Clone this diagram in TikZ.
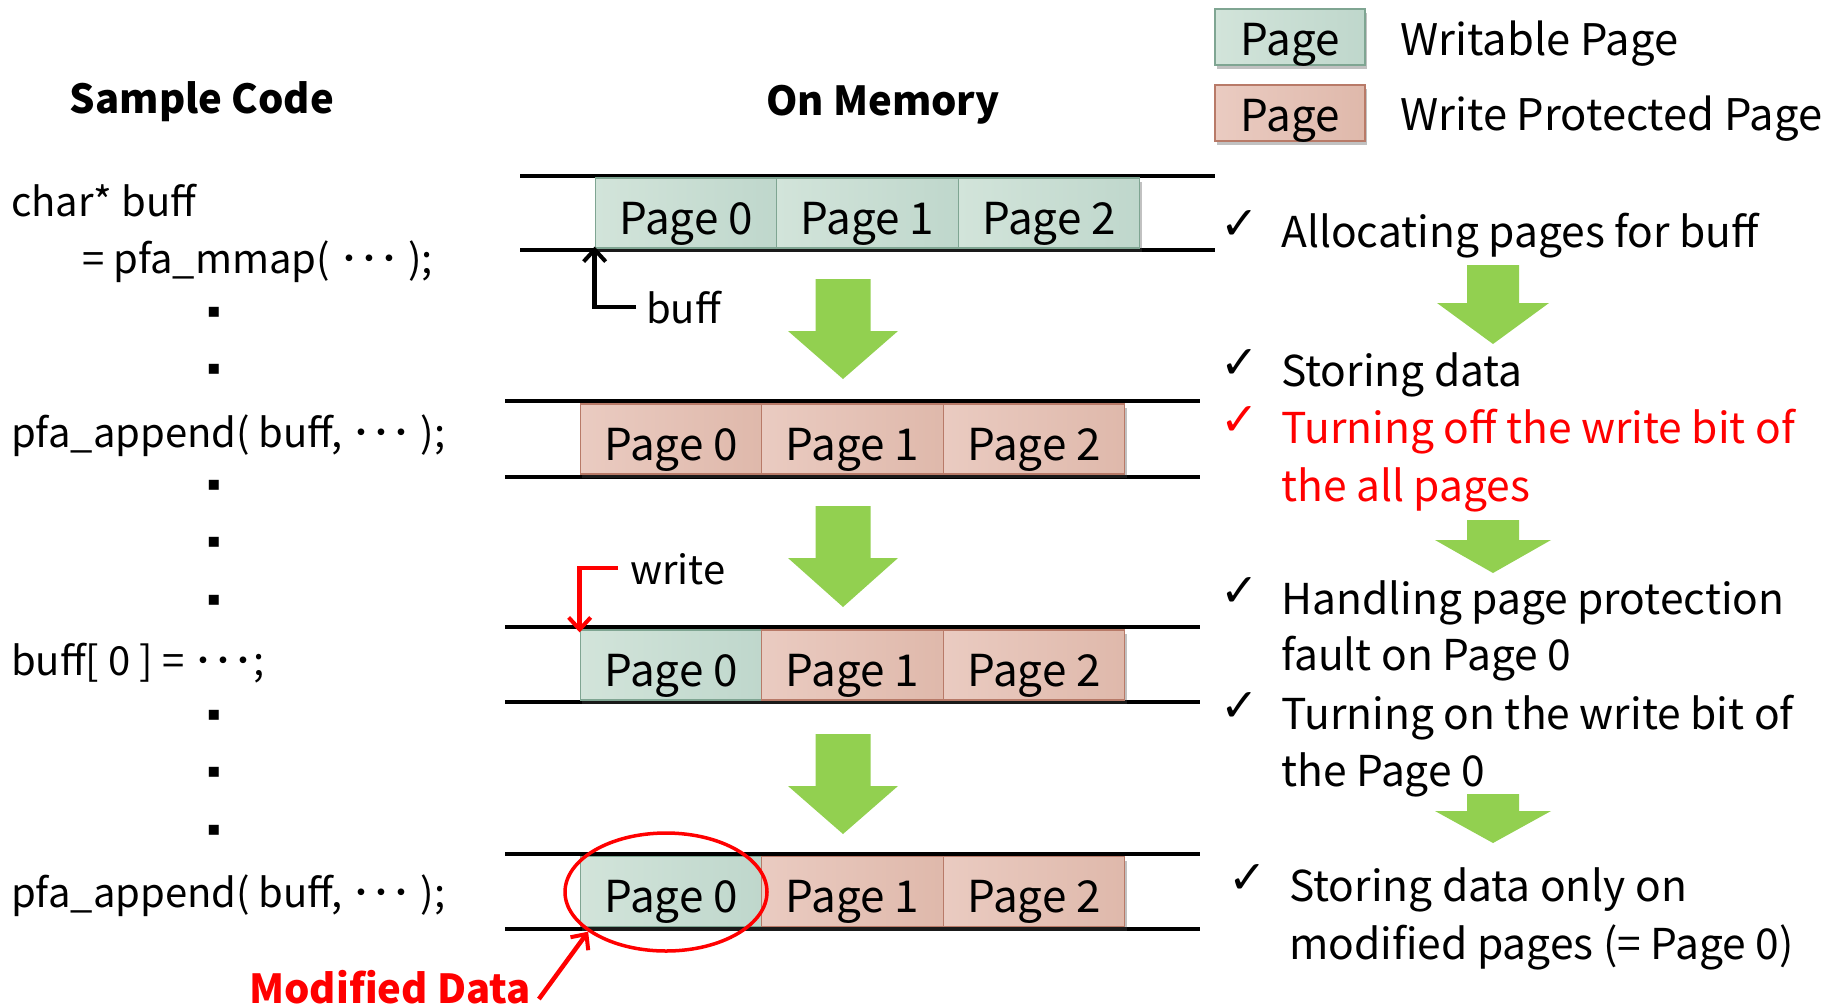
\documentclass[tikz,border=0pt]{standalone}
\usepackage{fontspec}
\setmainfont{Noto Sans CJK JP}
\newfontfamily\symfont{DejaVu Sans}
\usetikzlibrary{arrows.meta,shapes.geometric,shadows}

\definecolor{wpLight}{HTML}{D2E4DA}
\definecolor{wpDark}{HTML}{AFCDBF}
\definecolor{wpEdge}{HTML}{7FA592}
\definecolor{rpLight}{HTML}{EACBC1}
\definecolor{rpDark}{HTML}{D7A796}
\definecolor{rpEdge}{HTML}{B87A68}
\definecolor{flowgreen}{HTML}{92D050}
\definecolor{alert}{HTML}{FF0000}

% downward block arrow: x, top, shoulder, tip, half shaft, half head
\newcommand\blockdown[6]{%
  \fill[flowgreen] (#1-#5,#2) -- (#1+#5,#2) -- (#1+#5,#3) -- (#1+#6,#3)
    -- (#1,#4) -- (#1-#6,#3) -- (#1-#5,#3) -- cycle;}

\begin{document}
\begin{tikzpicture}[x=1pt,y=-1pt,
  txt/.style={font=\fontsize{40}{48}\selectfont, inner sep=0pt,
    text height=35pt, text depth=3pt},
  step text/.style={txt, font=\fontsize{42.5}{50}\selectfont},
  head/.style={font=\fontsize{40}{48}\selectfont\bfseries, inner sep=0pt,
    text height=35pt, text depth=3pt},
  pagebox/.style={font=\fontsize{44}{50}\selectfont, inner sep=0pt,
    text height=46pt, text depth=4pt,
    minimum width=181.5pt, minimum height=70pt, line width=1.2pt,
    drop shadow={shadow xshift=2pt, shadow yshift=-4pt, opacity=0.35, fill=black!70}},
  wp/.style={pagebox, draw=wpEdge, left color=wpLight, middle color=wpDark, right color=wpDark!80!white},
  rp/.style={pagebox, draw=rpEdge, left color=rpLight, middle color=rpDark, right color=rpDark!80!white},
  memline/.style={line width=4.5pt, black},
  tick/.style={font=\symfont\fontsize{46}{50}\selectfont, inner sep=0pt},
  codedot/.style={font=\symfont\fontsize{20}{24}\selectfont, inner sep=0pt},
  pointer/.style={line width=4.5pt, -{Straight Barb[length=12pt,width=22pt,line width=4pt]}},
]
\useasboundingbox (0,0) rectangle (1841,1005);

% headings
\node[head] (hcode) at (202,97) {Sample Code};
\node[head] (hmem) at (883,99) {On Memory};

% legend
\node[wp, minimum width=150pt, minimum height=56pt, text height=40pt] (legW) at (1290,37) {Page};
\node[rp, minimum width=150pt, minimum height=56pt, text height=40pt] (legR) at (1290,113) {Page};
\node[txt, font=\fontsize{43.5}{50}\selectfont, anchor=west] (legWt) at (1400,39) {Writable Page};
\node[txt, font=\fontsize{43.5}{50}\selectfont, anchor=west] (legRt) at (1400,114) {Write Protected Page};

% memory rails
\draw[memline] (520,176) -- (1215,176);
\draw[memline] (520,250) -- (1215,250);
\foreach \y in {401,477,627,702,854,929}
  \draw[memline] (505,\y) -- (1200,\y);

% page rows
\foreach \r/\y/\x/\sa/\sb/\sc in {1/213/686/wp/wp/wp, 2/439/671/rp/rp/rp,
                                  3/665/671/wp/rp/rp, 4/891.5/671/wp/rp/rp} {
  \node[\sa] (r\r p0) at (\x,\y) {Page 0};
  \node[\sb] (r\r p1) at (\x+181.5,\y) {Page 1};
  \node[\sc] (r\r p2) at (\x+363,\y) {Page 2};
}

% flow arrows between memory states
\blockdown{843}{279}{331}{379}{27.5}{55}
\blockdown{843}{506}{558}{607}{27.5}{55}
\blockdown{843}{734}{786}{834}{27.5}{55}

% buff pointer
\node[txt, anchor=west] (bufflbl) at (646,307) {buff};
\draw[pointer] ([xshift=-10pt]bufflbl.west) -| ([yshift=2pt]r1p0.south west);

% write access
\node[txt, anchor=west] (writelbl) at (630,568) {write};
\draw[pointer, alert] ([xshift=-12pt]writelbl.west) -| ([yshift=-3pt]r3p0.north west);

% modified page highlight
\node[draw=alert, line width=3.5pt, ellipse, minimum width=202pt, minimum height=118pt] (modring) at (666,892) {};
\node[head, text=alert] (modlbl) at (390,987) {Modified Data};
\draw[pointer, alert] ([xshift=8pt,yshift=-12pt]modlbl.east) -- (modring.207);

% sample code
\node[txt, anchor=west] (c1) at (11,200) {char* buff};
\node[txt, anchor=west] (c2) at (82,257) {= pfa\_mmap( ･･･ );};
\node[txt, anchor=west] (c3) at (11,431) {pfa\_append( buff, ･･･ );};
\node[txt, anchor=west] (c4) at (11,659) {buff[ 0 ] = ･･･;};
\node[txt, anchor=west] (c5) at (11,891) {pfa\_append( buff, ･･･ );};
\foreach \y [count=\i] in {312,369,485,542,600,715,772,830}
  \node[codedot] (dot\i) at (214,\y) {▪};

% steps
\node[tick] (k1) at (1240,225) {✓};
\node[step text, anchor=west] (s1) at (1281,231) {Allocating pages for buff};
\blockdown{1493}{265}{303}{344}{26}{56}
\node[tick] (k2) at (1240,364) {✓};
\node[step text, anchor=west] (s2) at (1281,370) {Storing data};
\node[tick, text=alert] (k3) at (1240,421) {✓};
\node[step text, anchor=west, text=alert] (s3a) at (1281,427) {Turning off the write bit of};
\node[step text, anchor=west, text=alert] (s3b) at (1281,485) {the all pages};
\blockdown{1493}{520}{540}{573}{26}{58}
\node[tick] (k4) at (1240,592) {✓};
\node[step text, anchor=west] (s4a) at (1281,598) {Handling page protection};
\node[step text, anchor=west] (s4b) at (1281,654) {fault on Page 0};
\node[tick] (k5) at (1240,707) {✓};
\node[step text, anchor=west] (s5a) at (1281,713) {Turning on the write bit of};
\node[step text, anchor=west] (s5b) at (1281,770) {the Page 0};
\blockdown{1493}{794}{811}{843}{26}{58}
\node[tick] (k6) at (1248,879) {✓};
\node[step text, anchor=west] (s6a) at (1289,885) {Storing data only on};
\node[step text, anchor=west] (s6b) at (1289,943) {modified pages (= Page 0)};
\end{tikzpicture}
\end{document}
